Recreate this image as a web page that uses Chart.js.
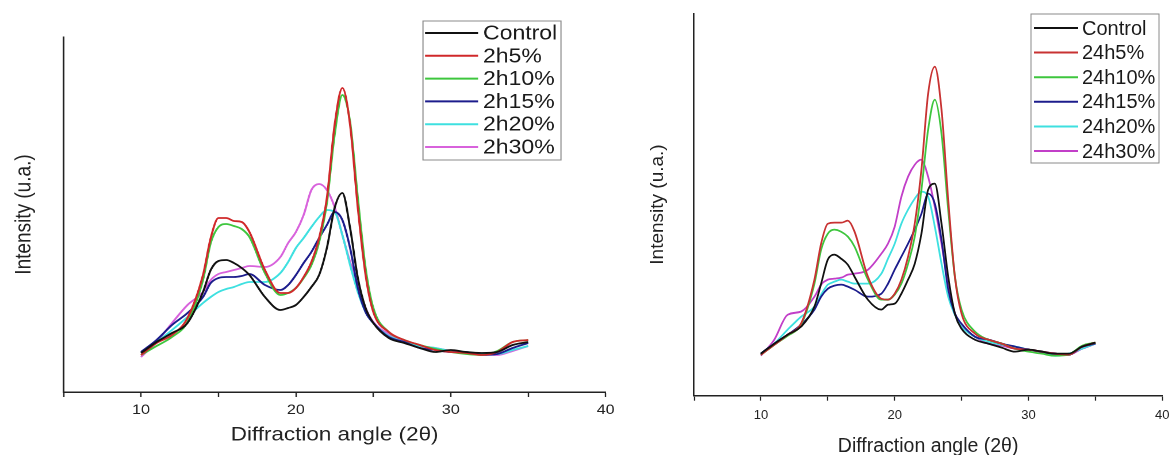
<!DOCTYPE html>
<html><head><meta charset="utf-8">
<script src="https://cdn.jsdelivr.net/npm/chart.js@4.4.1/dist/chart.umd.min.js"></script>
<style>
html,body{margin:0;padding:0;background:#fff;width:1176px;height:455px;overflow:hidden;}
#wrapL{position:absolute;left:0;top:0;width:539px;height:455px;transform:scaleX(1.15);transform-origin:0 0;}
#wrapR{position:absolute;left:620px;top:0;width:556px;height:455px;}
canvas{display:block;}
</style></head><body>
<div id="wrapL"><canvas id="cL" width="539" height="455"></canvas></div>
<div id="wrapR"><canvas id="cR" width="556" height="455"></canvas></div>
<script>
// Diffraction angle (2θ) sample positions
const angles = [10,11,12,13,14,14.5,15,15.5,16,16.5,17,18,19,19.5,20,20.5,21,21.5,22,22.5,23,23.5,24,24.5,25,26,27,28,29,30,31,32,33,34,35];
const xTickLabels = [10,20,30,40];

// Left panel (2 h treatments)
const labelsL = ['Control','2h5%','2h10%','2h15%','2h20%','2h30%'];
const controlL = [39,50,59,69,100,122,131,132,129,124,117,95,82,84,87,95,105,117,144,184,199,164,114,84,69,54,49,44,40,42,40,39,40,47,50];
const h2p5  = [37,49,57,74,117,154,174,174,171,170,160,122,99,99,104,115,130,154,194,267,304,267,184,117,80,60,52,47,42,40,39,37,40,50,52];
const h2p10 = [37,46,55,70,112,149,165,168,166,163,155,119,97,99,104,114,127,150,189,257,297,270,194,124,84,60,52,47,43,40,38,37,41,50,52];
const h2p15 = [40,52,67,79,95,109,114,115,115,116,118,107,102,107,117,129,140,154,167,180,172,144,104,80,69,55,50,44,42,40,40,37,38,44,49];
const h2p20 = [40,50,62,75,89,95,100,103,105,108,110,110,119,130,144,154,165,175,182,180,157,127,100,80,69,56,50,46,44,41,39,38,38,42,46];
const h2p30 = [35,50,69,87,100,112,118,120,122,124,126,125,135,149,160,177,202,208,202,185,157,130,107,84,70,58,50,46,44,41,39,38,37,41,46];

// Right panel (24 h treatments)
const labelsR = ['Control','24h5%','24h10%','24h15%','24h20%','24h30%'];
const controlR = [42,52,61,69,89,112,136,141,137,131,119,96,86,91,92,102,116,132,162,206,212,172,119,82,67,56,52,48,44,46,44,42,42,49,53];
const h24p5  = [41,51,61,72,116,152,172,173,173,175,164,119,97,96,102,116,139,172,226,302,329,286,196,119,82,62,56,52,47,46,44,42,41,49,53];
const h24p10 = [41,51,60,71,112,146,162,166,164,159,149,116,96,96,101,112,132,159,206,266,296,262,186,119,86,64,56,52,47,44,42,40,41,50,53];
const h24p15 = [42,52,61,71,86,99,107,110,111,109,106,99,102,112,126,139,152,166,182,202,192,156,106,82,72,59,56,52,49,46,44,42,41,49,52];
const h24p20 = [42,52,66,79,89,101,111,114,116,114,112,112,122,137,152,172,186,197,204,199,169,132,99,81,69,59,54,51,49,46,44,40,42,47,52];
const h24p30 = [40,56,81,84,99,111,116,117,118,121,122,126,142,152,169,199,219,231,236,219,189,152,112,82,70,59,52,50,47,46,43,42,41,47,52];

const colorsL = ['#111111','#d0282a','#3ec63e','#1c1c8c','#3ee0e0','#d862dc'];
const colorsR = ['#111111','#c83232','#3ec63e','#1c1c8c','#3ee0e0','#c23fc8'];
const FONT = '"Liberation Sans", Arial, sans-serif';

const boxLegend = {
  id: 'boxLegend',
  afterDraw(chart, args, o) {
    const ctx = chart.ctx;
    ctx.save();
    ctx.strokeStyle = '#8a8a8a';
    ctx.lineWidth = 1;
    ctx.strokeRect(o.x, o.y, o.w, o.h);
    ctx.font = o.fontSize + 'px ' + FONT;
    ctx.textBaseline = 'middle';
    ctx.textAlign = 'left';
    chart.data.datasets.forEach((ds, i) => {
      const yy = o.row0 + i * o.step;
      ctx.strokeStyle = ds.borderColor;
      ctx.lineWidth = 2;
      ctx.beginPath(); ctx.moveTo(o.l1, yy); ctx.lineTo(o.l2, yy); ctx.stroke();
      ctx.fillStyle = '#1a1a1a';
      ctx.fillText(ds.label, o.tx, yy + 1);
    });
    ctx.restore();
  }
};

function makeChart(id, labels, series, colors, cfg) {
  return new Chart(document.getElementById(id), {
    type: 'line',
    data: {
      datasets: series.map((s, i) => ({
        label: labels[i],
        data: angles.map((a, j) => ({x: a, y: s[j]})),
        borderColor: colors[i],
        borderWidth: 1.8,
        pointRadius: 0,
        fill: false,
        tension: 0.35,
        cubicInterpolationMode: 'monotone'
      }))
    },
    options: {
      responsive: false,
      animation: false,
      devicePixelRatio: cfg.dpr,
      layout: {padding: {left: cfg.padL, top: cfg.padT, right: cfg.padR, bottom: 0}},
      plugins: {legend: {display: false}, tooltip: {enabled: false}, boxLegend: cfg.legend},
      scales: {
        x: {
          type: 'linear', min: 5, max: 40,
          afterFit: s => { s.height = cfg.xH; },
          ticks: {
            stepSize: 5, autoSkip: false, maxRotation: 0, padding: cfg.tickPad,
            color: '#222', font: {family: FONT, size: cfg.tickSize},
            callback: v => xTickLabels.includes(v) ? String(v) : ''
          },
          grid: {display: true, drawOnChartArea: false, drawTicks: true, tickLength: 5, tickColor: '#222', tickWidth: 1.2},
          border: {display: true, color: '#222', width: 1.5},
          title: {display: true, text: 'Diffraction angle (2θ)', color: '#222',
                  font: {family: FONT, size: 19.5}, padding: {top: 0, bottom: cfg.xTitlePadB}}
        },
        y: {
          min: 0, max: cfg.yMax,
          afterFit: s => { s.width = cfg.yW; },
          ticks: {display: false},
          grid: {display: true, drawOnChartArea: false, drawTicks: false},
          border: {display: true, color: '#222', width: 1.5},
          title: {display: true, text: 'Intensity (u.a.)', color: '#222',
                  font: {family: FONT, size: 19}, padding: {top: 0, bottom: 0}}
        }
      }
    },
    plugins: [boxLegend]
  });
}

makeChart('cL', labelsL, [controlL, h2p5, h2p10, h2p15, h2p20, h2p30], colorsL, {
  dpr: 2, padL: 9.9, padT: 37, padR: 7.7, xH: 63, yW: 45.4, tickPad: 4.6, tickSize: 14,
  xTitlePadB: 8.3, yMax: 355,
  legend: {x: 367.8, y: 21, w: 120, h: 139, l1: 369.6, l2: 415.7, tx: 420, row0: 33, step: 22.8, fontSize: 20}
});

makeChart('cR', labelsR, [controlR, h24p5, h24p10, h24p15, h24p20, h24p30], colorsR, {
  dpr: 1, padL: 26.6, padT: 13.3, padR: 11, xH: 59.3, yW: 47.4, tickPad: 6.5, tickSize: 13,
  xTitlePadB: -3, yMax: 382.4,
  legend: {x: 411, y: 14, w: 128, h: 149, l1: 414, l2: 458, tx: 462, row0: 28, step: 24.6, fontSize: 20}
});
</script>
</body></html>
